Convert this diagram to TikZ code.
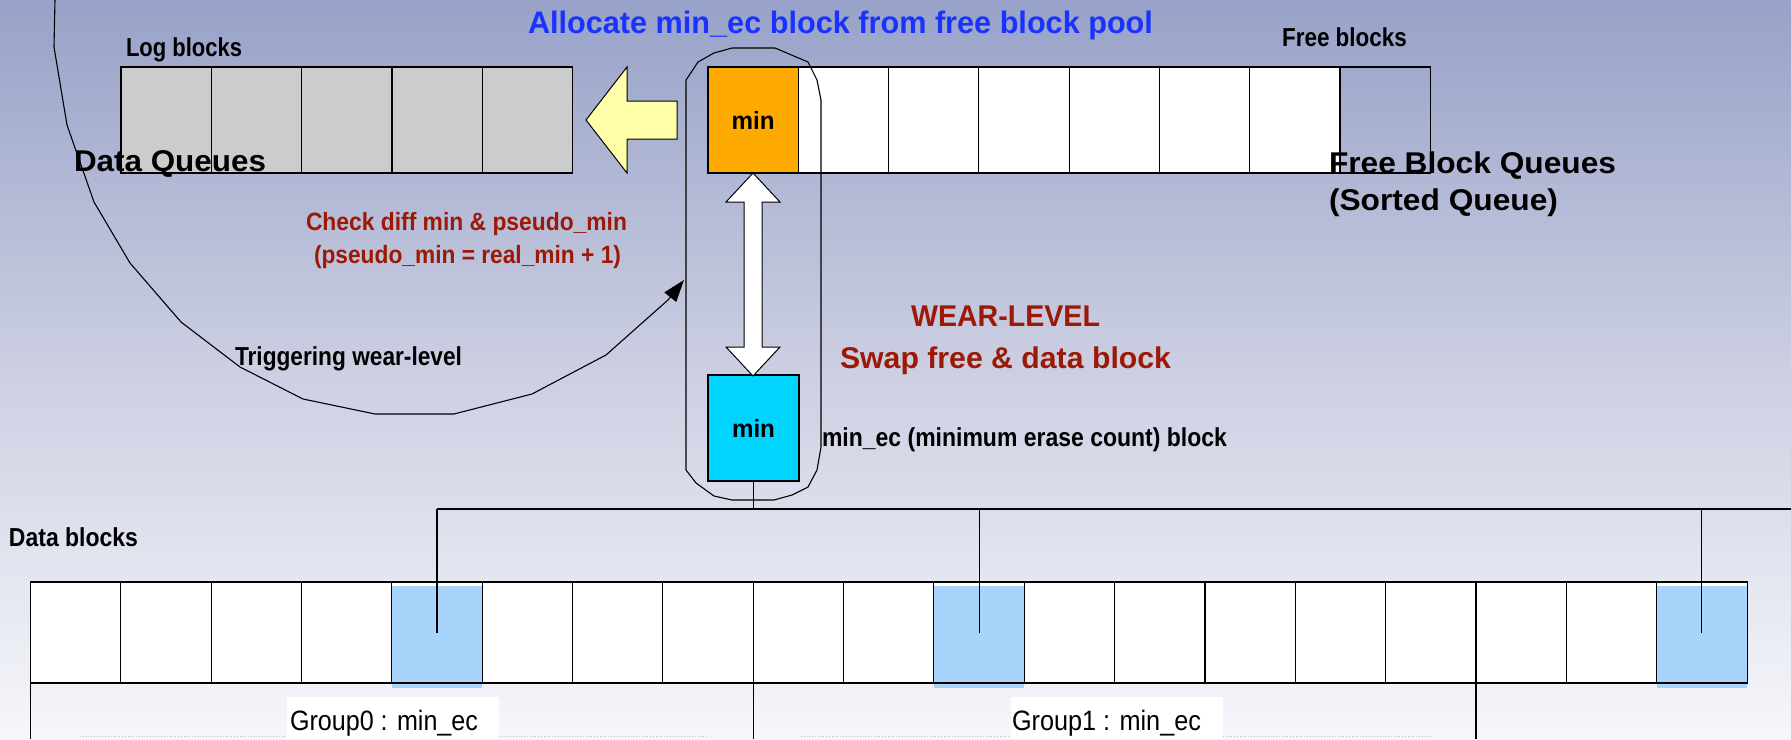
\documentclass[tikz,border=0pt]{standalone}
\usepackage{fontspec}
\setmainfont{Liberation Sans}
\usepackage{graphicx}
\usetikzlibrary{arrows.meta}
\definecolor{bgtop}{RGB}{152,162,200}
\definecolor{bgmid}{RGB}{204,207,226}
\definecolor{bgbot}{RGB}{246,247,251}
\definecolor{titleblue}{RGB}{25,50,255}
\definecolor{darkred}{RGB}{155,25,5}
\definecolor{loggray}{RGB}{204,204,204}
\definecolor{minorange}{RGB}{255,170,0}
\definecolor{mincyan}{RGB}{0,212,255}
\definecolor{lightblue}{RGB}{168,212,252}
\definecolor{arrowyellow}{RGB}{255,255,170}
\newcommand\cw[2]{\resizebox{#1}{\height}{#2}}
\newcommand\fs[1]{\fontsize{#1}{#1}\selectfont}
\begin{document}
\begin{tikzpicture}[x=1pt,y=-1pt,
  cellbox/.style={draw=black,line width=1.2pt,minimum width=90.35pt,minimum height=106pt,anchor=north west,inner sep=0pt,outer sep=0pt},
  datacell/.style={draw=black,line width=1.1pt,minimum width=90.35pt,minimum height=101pt,anchor=north west,inner sep=0pt,outer sep=0pt,fill=white},
  lbl/.style={anchor=base west,inner sep=0pt,outer sep=0pt},
  conn/.style={draw=black,line width=1.1pt},
  ]
\useasboundingbox (0,0) rectangle (1791,739);
\shade[top color=bgtop,bottom color=bgbot,middle color=bgmid] (0,0) rectangle (1791,739);

% triggering curve
\coordinate (trigstart) at (55,0);
\coordinate (trigend) at (684,280);
\draw[conn,-{Triangle[length=22pt,width=15pt]}] (trigstart) -- (54,47) -- (67,125) -- (94,202) -- (130,263) -- (181,322) -- (240,367) -- (303,399) -- (375,414) -- (454,414) -- (532,394) -- (606,355) -- (668,300) -- (trigend);

% log blocks
\foreach \i in {0,...,4}
  \node[cellbox,fill=loggray] (log\i) at ({121+\i*90.35},67) {};

% free blocks
\node[cellbox,fill=minorange] (free0) at (708,67) {\cw{43pt}{\fs{25}\bfseries min}};
\foreach \i in {1,...,6}
  \node[cellbox,fill=white] (free\i) at ({708+\i*90.29},67) {};
\node[cellbox] (free7) at ({708+7*90.29},67) {};

% yellow arrow
\draw[fill=arrowyellow,draw=black,line width=1pt] (586,120) -- (627,67) -- (627,101) -- (677,101) -- (677,139) -- (627,139) -- (627,173) -- cycle;

% capsule
\draw[conn] (686,80) -- (698,62) -- (714,53) -- (732,48) -- (775,48) -- (808,62) -- (817,80) -- (821,100) -- (821,447) -- (817,470) -- (808,487) -- (792,495) -- (774,500) -- (732,500) -- (714,496) -- (696,483) -- (686,470) -- cycle;

% cyan min block
\node[cellbox,fill=mincyan,minimum width=91pt] (cyan) at (708,375) {\cw{43pt}{\fs{25}\bfseries min}};

% double arrow
\draw[fill=white,draw=black,line width=1pt] (753,173) -- (780,202) -- (762,202) -- (762,347) -- (780,347) -- (753,376) -- (726,347) -- (744,347) -- (744,202) -- (726,202) -- cycle;

% data blocks
\foreach \i in {0,...,18}
  \node[datacell] (d\i) at ({30.4+\i*90.35},582) {};
\foreach \i in {4,10,18}
  \node[datacell,fill=lightblue,draw=none,minimum height=102pt] (b\i) at ({30.4+\i*90.35},586) {};
\foreach \i in {4,10,18}
  \draw[black,line width=1.1pt] (d\i.north west) -- (d\i.south west) (d\i.north east) -- (d\i.south east) (d\i.north west) -- (d\i.north east) (d\i.south west) -- (d\i.south east);

% bus connectors
\coordinate (bus) at (cyan.south |- 0,509);
\coordinate (busL) at (d4.center |- 0,509);
\coordinate (busM) at (d10.center |- 0,509);
\coordinate (busE) at (d18.center |- 0,509);
\coordinate (busR) at (1791,509);
\draw[conn] (cyan.south) -- (bus);
\draw[conn] (busL) -- (busR);
\draw[conn] (busL) -- (d4.center);
\draw[conn] (busM) -- (d10.center);
\draw[conn] (busE) -- (d18.center);

% group separators below
\coordinate (s0) at (30.4,620);
\coordinate (s0b) at (30.4,739);
\coordinate (s1) at (d7.east |- 0,620);
\coordinate (s1b) at (d7.east |- 0,739);
\coordinate (s2) at (d16.south west);
\coordinate (s2b) at (d16.west |- 0,739);
\draw[conn] (s0) -- (s0b);
\draw[conn] (s1) -- (s1b);
\draw[conn] (s2) -- (s2b);

% dotted bottom lines
\draw[dotted,line width=0.8pt,black!25] (80,736) -- (287,736) (499,736) -- (709,736) (801,736) -- (1011,736) (1223,736) -- (1431,736);

% group labels
\node[fill=white,anchor=north west,minimum width=212pt,minimum height=42pt,inner sep=0pt] (g0box) at (287,697) {};
\node[fill=white,anchor=north west,minimum width=212pt,minimum height=42pt,inner sep=0pt] (g1box) at (1011,697) {};
\node[lbl] (g0) at (290,730) {\cw{188pt}{\fs{28}Group0 : min\_ec}};
\node[lbl] (g1) at (1012,730) {\cw{189pt}{\fs{28}Group1 : min\_ec}};

% texts
\node[lbl,text=titleblue] (title) at (528,33) {\cw{625pt}{\fs{31}\bfseries Allocate min\_ec block from free block pool}};
\node[lbl] (loglbl) at (126,56.7) {\cw{116pt}{\fs{26}\bfseries Log blocks}};
\node[lbl] (freelbl) at (1282,46.7) {\cw{125pt}{\fs{26}\bfseries Free blocks}};
\node[lbl] (dq) at (74,171.7) {\cw{192pt}{\fs{30}\bfseries Data Queues}};
\node[lbl] (fbq) at (1329,173.3) {\cw{287pt}{\fs{30}\bfseries Free Block Queues}};
\node[lbl] (sq) at (1329,210) {\cw{229pt}{\fs{30}\bfseries (Sorted Queue)}};
\node[lbl,text=darkred] (chk1) at (306,230) {\cw{321pt}{\fs{25}\bfseries Check diff min \& pseudo\_min}};
\node[lbl,text=darkred] (chk2) at (314,263) {\cw{307pt}{\fs{25}\bfseries (pseudo\_min = real\_min + 1)}};
\node[lbl] (trig) at (235,365) {\cw{227pt}{\fs{26}\bfseries Triggering wear-level}};
\node[lbl,text=darkred] (wl) at (911,326.7) {\cw{189pt}{\fs{30}\bfseries WEAR-LEVEL}};
\node[lbl,text=darkred] (swap) at (840,368.3) {\cw{331pt}{\fs{30}\bfseries Swap free \& data block}};
\node[lbl] (minec) at (822,446.7) {\cw{405pt}{\fs{26}\bfseries min\_ec (minimum erase count) block}};
\node[lbl] (dblbl) at (9,546.7) {\cw{129pt}{\fs{26}\bfseries Data blocks}};
\end{tikzpicture}
\end{document}
